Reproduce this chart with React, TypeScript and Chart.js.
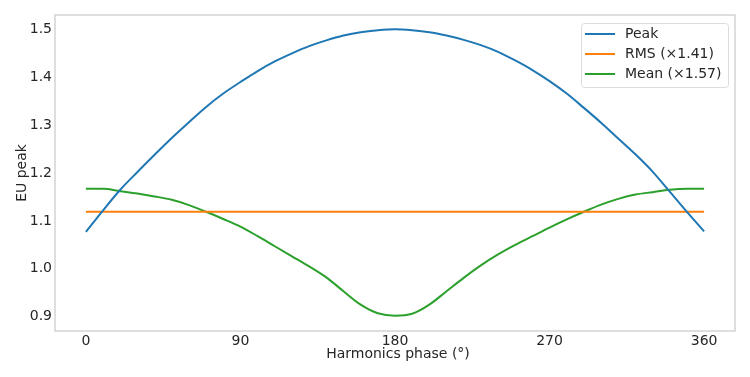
import React, { useEffect, useRef } from "react";
import { Chart, registerables } from "chart.js";

Chart.register(...registerables);

const phases = [0,10,20,30,40,50,60,70,80,90,100,110,120,130,140,150,160,170,180,190,200,210,220,230,240,250,260,270,280,290,300,310,320,330,340,350,360];
const peak = [1.077,1.122,1.165,1.202,1.238,1.273,1.306,1.338,1.366,1.39,1.413,1.433,1.45,1.465,1.477,1.487,1.494,1.498,1.5,1.498,1.494,1.487,1.478,1.467,1.453,1.435,1.415,1.392,1.366,1.336,1.305,1.272,1.239,1.203,1.161,1.119,1.078];
const rmsValue = 1.119;
const mean = [1.167,1.167,1.162,1.157,1.151,1.144,1.133,1.119,1.104,1.088,1.068,1.047,1.026,1.005,0.982,0.953,0.925,0.907,0.902,0.906,0.925,0.953,0.981,1.007,1.03,1.05,1.068,1.086,1.103,1.119,1.134,1.146,1.155,1.16,1.165,1.167,1.167];
const xTicks = [0, 90, 180, 270, 360];
const yTicks = [0.9, 1.0, 1.1, 1.2, 1.3, 1.4, 1.5];
const seriesNames = ["Peak", "RMS (×1.41)", "Mean (×1.57)"];
const seriesColors = ["#1f77b4", "#ff7f0e", "#2ca02c"];
const xTitle = "Harmonics phase (°)";
const yTitle = "EU peak";

const FONT = "'DejaVu Sans', sans-serif";
const TEXT = "#262626";

const overlay = {
  id: "overlay",
  afterDraw(chart: any) {
    const { ctx, chartArea: a } = chart;
    ctx.save();
    ctx.strokeStyle = "#c8c8c8";
    ctx.lineWidth = 1.2;
    ctx.strokeRect(a.left, a.top, a.right - a.left, a.bottom - a.top);
    ctx.fillStyle = TEXT;
    ctx.font = `14px ${FONT}`;
    ctx.textAlign = "center";
    ctx.textBaseline = "middle";
    ctx.fillText(xTitle, (a.left + a.right) / 2 + 3, 354);
    ctx.save();
    ctx.translate(22, (a.top + a.bottom) / 2);
    ctx.rotate(-Math.PI / 2);
    ctx.fillText(yTitle, 0, 0);
    ctx.restore();
    const bx = 581, by = 23, bw = 147, bh = 64;
    ctx.fillStyle = "rgba(255,255,255,0.85)";
    ctx.strokeStyle = "#dcdcdc";
    ctx.lineWidth = 1;
    ctx.beginPath();
    (ctx as any).roundRect(bx + 0.5, by + 0.5, bw, bh, 3);
    ctx.fill();
    ctx.stroke();
    ctx.font = `14px ${FONT}`;
    ctx.textAlign = "left";
    seriesNames.forEach((name, i) => {
      const y = 34 + i * 20;
      ctx.strokeStyle = seriesColors[i];
      ctx.lineWidth = 2;
      ctx.beginPath();
      ctx.moveTo(585, y);
      ctx.lineTo(615, y);
      ctx.stroke();
      ctx.fillStyle = TEXT;
      ctx.fillText(name, 625, y + 0.5);
    });
    ctx.restore();
  },
};

export default function App() {
  const ref = useRef<HTMLCanvasElement>(null);
  useEffect(() => {
    document.body.style.margin = "0";
    const chart = new Chart(ref.current!, {
      type: "line",
      data: {
        datasets: [
          {
            label: seriesNames[0],
            data: phases.map((x, i) => ({ x, y: peak[i] })),
            borderColor: seriesColors[0],
            borderWidth: 2,
            pointRadius: 0,
            cubicInterpolationMode: "monotone",
          },
          {
            label: seriesNames[1],
            data: phases.map((x) => ({ x, y: rmsValue })),
            borderColor: seriesColors[1],
            borderWidth: 2,
            pointRadius: 0,
          },
          {
            label: seriesNames[2],
            data: phases.map((x, i) => ({ x, y: mean[i] })),
            borderColor: seriesColors[2],
            borderWidth: 2,
            pointRadius: 0,
            cubicInterpolationMode: "monotone",
          },
        ],
      },
      options: {
        animation: false,
        responsive: false,
        layout: { padding: { top: 15, right: 15, left: 0, bottom: 0 } },
        plugins: { legend: { display: false }, tooltip: { enabled: false } },
        scales: {
          x: {
            type: "linear",
            min: -18,
            max: 378,
            grid: { display: false, drawTicks: false },
            border: { display: false },
            afterBuildTicks: (s: any) => {
              s.ticks = xTicks.map((v) => ({ value: v }));
            },
            afterFit: (s: any) => {
              s.height = 46;
            },
            ticks: {
              color: TEXT,
              font: { family: FONT, size: 14 },
              padding: 2,
              maxRotation: 0,
              callback: (v: any) => String(v),
            },
          },
          y: {
            type: "linear",
            min: 0.87,
            max: 1.53,
            grid: { display: false, drawTicks: false },
            border: { display: false },
            afterBuildTicks: (s: any) => {
              s.ticks = yTicks.map((v) => ({ value: v }));
            },
            afterFit: (s: any) => {
              s.width = 55;
            },
            ticks: {
              color: TEXT,
              font: { family: FONT, size: 14 },
              padding: 3,
              callback: (v: any) => Number(v).toFixed(1),
            },
          },
        },
      },
      plugins: [overlay],
    });
    return () => chart.destroy();
  }, []);
  return (
    <div style={{ width: 750, height: 377 }}>
      <canvas ref={ref} width={750} height={377} style={{ display: "block" }} />
    </div>
  );
}
